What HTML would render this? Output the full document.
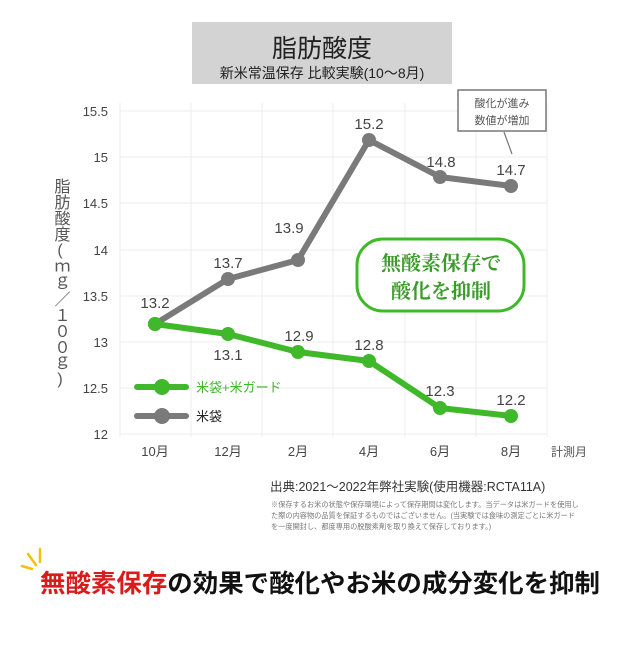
<!DOCTYPE html><html><head><meta charset="utf-8"><style>
body{margin:0;background:#fff;width:640px;height:640px;overflow:hidden;font-family:"Liberation Sans","Noto Sans CJK JP",sans-serif}
</style></head><body>
<svg width="640" height="640" viewBox="0 0 640 640" xmlns="http://www.w3.org/2000/svg" font-family="Liberation Sans, Noto Sans CJK JP, sans-serif">
<rect x="192" y="22" width="260" height="62" fill="#d3d3d3"/>
<text x="322" y="57" font-size="25" text-anchor="middle" fill="#222">脂肪酸度</text>
<text x="322" y="78" font-size="14" text-anchor="middle" fill="#222">新米常温保存 比較実験(10～8月)</text>
<g stroke="#ececec" stroke-width="1">
<line x1="120" y1="111" x2="547" y2="111"/><line x1="120" y1="157" x2="547" y2="157"/><line x1="120" y1="203" x2="547" y2="203"/><line x1="120" y1="250" x2="547" y2="250"/><line x1="120" y1="296" x2="547" y2="296"/><line x1="120" y1="342" x2="547" y2="342"/><line x1="120" y1="388" x2="547" y2="388"/><line x1="120" y1="434" x2="547" y2="434"/>
<line x1="120" y1="103" x2="120" y2="437"/><line x1="191" y1="103" x2="191" y2="437"/><line x1="262" y1="103" x2="262" y2="437"/><line x1="333" y1="103" x2="333" y2="437"/><line x1="405" y1="103" x2="405" y2="437"/><line x1="476" y1="103" x2="476" y2="437"/><line x1="547" y1="103" x2="547" y2="437"/>
</g>
<g font-size="13" fill="#444" text-anchor="end">
<text x="108" y="116">15.5</text><text x="108" y="162">15</text><text x="108" y="208">14.5</text><text x="108" y="255">14</text><text x="108" y="301">13.5</text><text x="108" y="347">13</text><text x="108" y="393">12.5</text><text x="108" y="439">12</text></g>
<g font-size="13" fill="#444" text-anchor="middle">
<text x="155" y="456">10月</text><text x="228" y="456">12月</text><text x="298" y="456">2月</text><text x="369" y="456">4月</text><text x="440" y="456">6月</text><text x="511" y="456">8月</text></g>
<text x="551" y="456" font-size="12" fill="#555">計測月</text>
<text font-size="16" fill="#555" x="60" y="178" style="writing-mode:vertical-rl;text-orientation:upright">脂肪酸度(ｍｇ／１００ｇ)</text>
<polyline points="155,324 228,279 298,260 369,140 440,177 511,186" fill="none" stroke="#7a7a7a" stroke-width="6" stroke-linejoin="round"/>
<g fill="#7a7a7a"><circle cx="155" cy="324" r="7"/><circle cx="228" cy="279" r="7"/><circle cx="298" cy="260" r="7"/><circle cx="369" cy="140" r="7"/><circle cx="440" cy="177" r="7"/><circle cx="511" cy="186" r="7"/></g>
<polyline points="155,324 228,334 298,352 369,361 440,408 511,416" fill="none" stroke="#3fb82a" stroke-width="6" stroke-linejoin="round"/>
<g fill="#3fb82a"><circle cx="155" cy="324" r="7"/><circle cx="228" cy="334" r="7"/><circle cx="298" cy="352" r="7"/><circle cx="369" cy="361" r="7"/><circle cx="440" cy="408" r="7"/><circle cx="511" cy="416" r="7"/></g>
<g font-size="15" fill="#444" text-anchor="middle">
<text x="155" y="308">13.2</text><text x="228" y="268">13.7</text><text x="289" y="233">13.9</text><text x="369" y="129">15.2</text><text x="441" y="167">14.8</text><text x="511" y="175">14.7</text>
<text x="228" y="360">13.1</text><text x="299" y="341">12.9</text><text x="369" y="350">12.8</text><text x="440" y="396">12.3</text><text x="511" y="405">12.2</text></g>
<line x1="137" y1="387" x2="186" y2="387" stroke="#3fb82a" stroke-width="6" stroke-linecap="round"/><circle cx="162" cy="387" r="8" fill="#3fb82a"/>
<text x="196" y="392" font-size="13" fill="#3fb82a">米袋+米ガード</text>
<line x1="137" y1="416" x2="186" y2="416" stroke="#7a7a7a" stroke-width="6" stroke-linecap="round"/><circle cx="162" cy="416" r="8" fill="#7a7a7a"/>
<text x="196" y="421" font-size="13" fill="#222">米袋</text>
<rect x="357" y="239" width="167" height="72" rx="26" fill="#fff" stroke="#3fb82a" stroke-width="3"/>
<g font-family="Noto Serif CJK JP, Noto Serif CJK SC, serif" font-weight="bold" font-size="20" fill="#3a9a2a" text-anchor="middle">
<text x="441" y="270">無酸素保存で</text><text x="441" y="298">酸化を抑制</text></g>
<rect x="458" y="90" width="88" height="41" fill="#fff" stroke="#777" stroke-width="1.5"/>
<text x="502" y="107" font-size="11" fill="#555" text-anchor="middle">酸化が進み</text>
<text x="502" y="124" font-size="11" fill="#555" text-anchor="middle">数値が増加</text>
<line x1="504" y1="132" x2="512" y2="154" stroke="#777" stroke-width="1.2"/>
<text x="270" y="491" font-size="12.5" fill="#333">出典:2021～2022年弊社実験(使用機器:RCTA11A)</text>
<g font-size="7.2" fill="#777"><text x="271" y="507">※保存するお米の状態や保存環境によって保存期間は変化します。当データは米ガードを使用し</text>
<text x="271" y="518">た際の内容物の品質を保証するものではございません。(当実験では食味の測定ごとに米ガード</text>
<text x="271" y="529">を一度開封し、都度専用の脱酸素剤を取り換えて保存しております。)</text></g>
<g stroke="#f0c20a" stroke-width="2.5" stroke-linecap="round"><line x1="28" y1="554" x2="36" y2="565"/><line x1="40" y1="549" x2="40" y2="562"/><line x1="22" y1="566" x2="32" y2="569"/></g>
<text x="40" y="592" font-size="25" font-weight="bold" textLength="560" lengthAdjust="spacingAndGlyphs"><tspan fill="#d81c1c">無酸素保存</tspan><tspan fill="#111">の効果で酸化やお米の成分変化を抑制</tspan></text>
</svg>
</body></html>
